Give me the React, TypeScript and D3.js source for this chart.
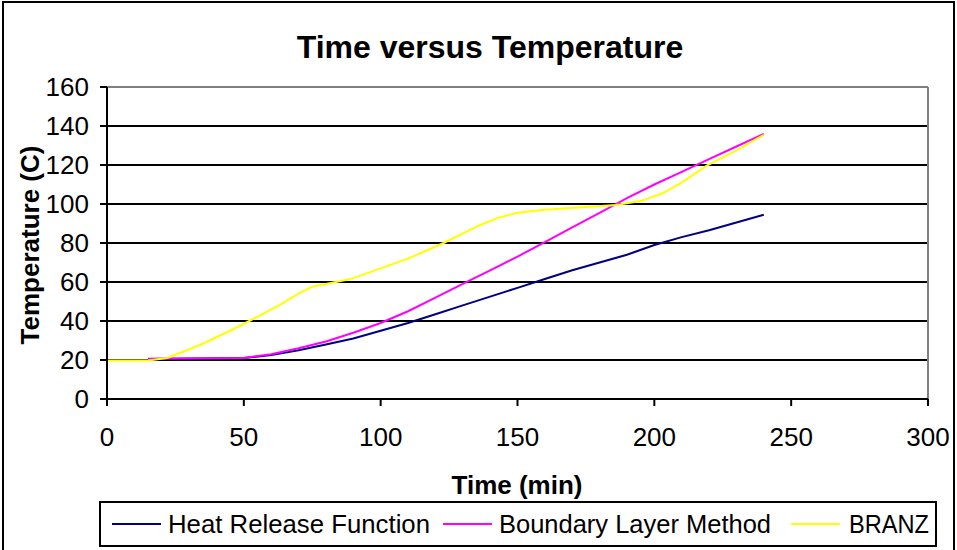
import React from "react";
import * as d3 from "d3";

const xTicks = [0, 50, 100, 150, 200, 250, 300];
const yTicks = [0, 20, 40, 60, 80, 100, 120, 140, 160];

const heatTime = [15, 50, 60, 70, 80, 90, 100, 110, 120, 130, 140, 150, 160, 170, 180, 190, 200, 210, 220, 230, 240];
const heatTemp = [20.5, 21, 22.5, 25, 28, 31, 35, 39, 43.5, 48, 52.5, 57, 61.5, 66, 70, 74, 79, 83, 86.5, 90.5, 94.5];

const boundaryTime = [15, 50, 60, 70, 80, 90, 100, 110, 120, 130, 140, 150, 160, 170, 180, 190, 200, 210, 220, 230, 240];
const boundaryTemp = [20.7, 21, 23, 26, 29.5, 34, 39, 45, 52, 59, 66, 73, 80.5, 88, 95.5, 103, 110, 116.5, 123, 129.5, 136];

const branzTime = [0, 15, 22, 34, 45, 52, 63, 70, 75, 89, 100, 110, 123, 136, 143, 150, 160, 175, 186, 195, 203, 210, 219, 230, 240];
const branzTemp = [19.7, 19.7, 21, 27.7, 35, 40, 48.2, 54, 57.6, 61.5, 67, 72, 80, 89, 93, 95.5, 97, 98.5, 99.5, 101.5, 105.5, 111, 119.5, 127.5, 135.5];

const seriesNames = ["Heat Release Function", "Boundary Layer Method", "BRANZ"];
const seriesColors = ["#000080", "#FF00FF", "#FFFF00"];

const W = 957;
const H = 550;
const FONT = "'Liberation Sans', Arial, sans-serif";

export default function App() {
  const left = 107, right = 928, top = 87, bottom = 399;
  const x = d3.scaleLinear().domain([0, 300]).range([left, right]);
  const y = d3.scaleLinear().domain([0, 160]).range([bottom, top]);

  const series = [
    heatTime.map((t, i) => [t, heatTemp[i]] as [number, number]),
    boundaryTime.map((t, i) => [t, boundaryTemp[i]] as [number, number]),
    branzTime.map((t, i) => [t, branzTemp[i]] as [number, number]),
  ];
  const line = d3.line<[number, number]>().x(d => x(d[0])).y(d => y(d[1]));

  const legendX = [112, 443, 791];
  const legendTextX = [168, 499, 849];
  const legendTextLen = [262, 272, 80];

  return (
    <svg width={W} height={H} style={{ position: "absolute", left: 0, top: 0 }} fontFamily={FONT}>
      <rect x={0} y={0} width={W} height={H} fill="#fff" />
      <rect x={3} y={2} width={951} height={570} fill="none" stroke="#000" strokeWidth={2} />
      <text x={490} y={58} textAnchor="middle" fontSize={32} fontWeight="bold">Time versus Temperature</text>

      {/* grid */}
      {yTicks.slice(1, -1).map(v => (
        <line key={v} x1={left} x2={right} y1={y(v)} y2={y(v)} stroke="#000" strokeWidth={2} />
      ))}
      <line x1={left} x2={right} y1={top} y2={top} stroke="#808080" strokeWidth={2} />
      <line x1={right} x2={right} y1={top} y2={bottom} stroke="#808080" strokeWidth={2} />

      {/* series */}
      {series.map((s, i) => (
        <path key={i} d={line(s) || ""} fill="none" stroke={seriesColors[i]} strokeWidth={2} />
      ))}

      {/* axes */}
      <line x1={left} x2={left} y1={top} y2={bottom} stroke="#000" strokeWidth={2} />
      <line x1={left} x2={right} y1={bottom} y2={bottom} stroke="#000" strokeWidth={2} />
      {yTicks.map(v => (
        <g key={v}>
          <line x1={left - 7} x2={left} y1={y(v)} y2={y(v)} stroke="#000" strokeWidth={2} />
          <text x={89} y={y(v) + 9} textAnchor="end" fontSize={26}>{v}</text>
        </g>
      ))}
      {xTicks.map(v => (
        <g key={v}>
          <line x1={x(v)} x2={x(v)} y1={bottom} y2={bottom + 7} stroke="#000" strokeWidth={2} />
          <text x={x(v)} y={446} textAnchor="middle" fontSize={26}>{v}</text>
        </g>
      ))}
      <text x={517} y={494} textAnchor="middle" fontSize={26} fontWeight="bold">Time (min)</text>
      <text transform={`translate(39,245) rotate(-90)`} textAnchor="middle" fontSize={26} fontWeight="bold">Temperature (C)</text>

      {/* legend */}
      <rect x={100} y={502} width={836} height={44} fill="#fff" stroke="#000" strokeWidth={2} />
      {seriesNames.map((n, i) => (
        <g key={n}>
          <line x1={legendX[i]} x2={legendX[i] + 49} y1={524} y2={524} stroke={seriesColors[i]} strokeWidth={2} />
          <text x={legendTextX[i]} y={533} fontSize={26} textLength={legendTextLen[i]} lengthAdjust="spacingAndGlyphs">{n}</text>
        </g>
      ))}
    </svg>
  );
}
